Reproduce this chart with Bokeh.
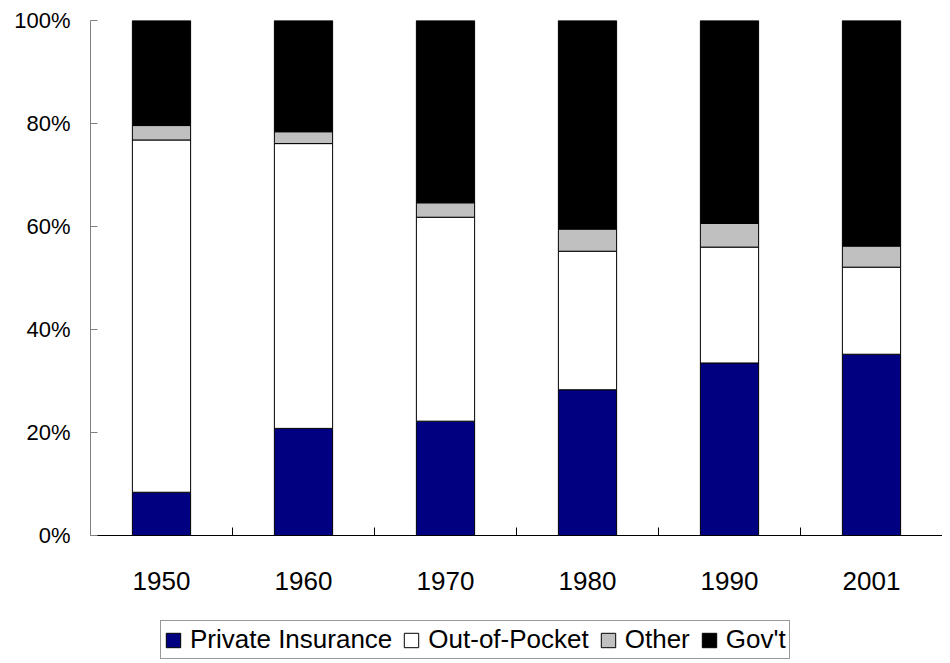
from bokeh.plotting import figure
from bokeh.layouts import column
from bokeh.models import FixedTicker, Legend, LegendItem, ColumnDataSource, Range1d
from bokeh.embed import file_html
from bokeh.resources import INLINE

years = ["1950", "1960", "1970", "1980", "1990", "2001"]
private_insurance = [8.4, 20.8, 22.2, 28.3, 33.5, 35.2]
out_of_pocket = [68.4, 55.3, 39.6, 26.9, 22.5, 16.9]
other = [2.8, 2.3, 2.8, 4.3, 4.6, 4.1]
govt = [20.4, 21.6, 35.4, 40.5, 39.4, 43.8]
series = ["Private Insurance", "Out-of-Pocket", "Other", "Gov't"]
colors = ["#000080", "#FFFFFF", "#C0C0C0", "#000000"]
y_ticks = [0, 20, 40, 60, 80, 100]

xs = [i + 0.5 for i in range(len(years))]
source = ColumnDataSource(dict(x=xs, p=private_insurance, o=out_of_pocket, t=other, g=govt))

FONT = "Liberation Sans"

p = figure(frame_width=852, frame_height=515, output_backend="svg", toolbar_location=None,
           x_range=Range1d(0, len(years)), y_range=Range1d(0, 100),
           min_border_left=90, min_border_top=20, min_border_right=0, min_border_bottom=70)
p.outline_line_color = None
p.xgrid.grid_line_color = None
p.ygrid.grid_line_color = None
p.background_fill_color = "white"
p.border_fill_color = "white"

p.vbar_stack(["p", "o", "t", "g"], x="x", width=0.41, source=source,
             fill_color=colors, line_color="black", line_width=1)

# x axis: labels at category centers, tick marks at category boundaries
p.xaxis.ticker = FixedTicker(ticks=xs, minor_ticks=list(range(1, len(years))))
p.xaxis.major_label_overrides = {x: y for x, y in zip(xs, years)}
p.xaxis.major_tick_line_color = None
p.xaxis.major_tick_out = 0
p.xaxis.major_tick_in = 0
p.xaxis.minor_tick_in = 8
p.xaxis.minor_tick_out = 0
p.xaxis.minor_tick_line_color = "black"
p.xaxis.axis_line_color = "black"
p.xaxis.major_label_standoff = 36
p.xaxis.major_label_text_font = FONT
p.xaxis.major_label_text_font_size = "26px"
p.xaxis.major_label_text_color = "black"

p.yaxis.ticker = FixedTicker(ticks=y_ticks, minor_ticks=[])
p.yaxis.major_label_overrides = {t: f"{t}%" for t in y_ticks}
p.yaxis.major_tick_out = 0
p.yaxis.major_tick_in = 7
p.yaxis.major_tick_line_color = "#808080"
p.yaxis.axis_line_color = "#808080"
p.yaxis.major_label_standoff = 20
p.yaxis.major_label_text_font = FONT
p.yaxis.major_label_text_font_size = "22px"
p.yaxis.major_label_text_color = "black"

# legend strip below the chart (its bars lie outside its visible range; only the legend shows)
q = figure(width=942, height=54, output_backend="svg", toolbar_location=None,
           x_range=Range1d(-2, -1), y_range=Range1d(0, 1),
           x_axis_type=None, y_axis_type=None, min_border=0)
q.outline_line_color = None
q.background_fill_color = "white"
q.border_fill_color = "white"
swatches = q.vbar_stack(["p", "o", "t", "g"], x="x", width=0.41, source=source,
                        fill_color=colors, line_color="black", line_width=1)

legend = Legend(items=[LegendItem(label=s, renderers=[r]) for s, r in zip(series, swatches)],
                orientation="horizontal", location=(70, 0))
legend.label_text_font = FONT
legend.label_text_font_size = "26px"
legend.label_text_color = "black"
legend.glyph_width = 18
legend.glyph_height = 18
legend.label_standoff = 8
legend.spacing = 10
legend.padding = 3
legend.margin = 0
legend.border_line_color = "#333333"
legend.border_line_width = 1
legend.background_fill_alpha = 1
q.add_layout(legend, "center")

open("out.html", "w").write(file_html(column(p, q, spacing=0), INLINE))
